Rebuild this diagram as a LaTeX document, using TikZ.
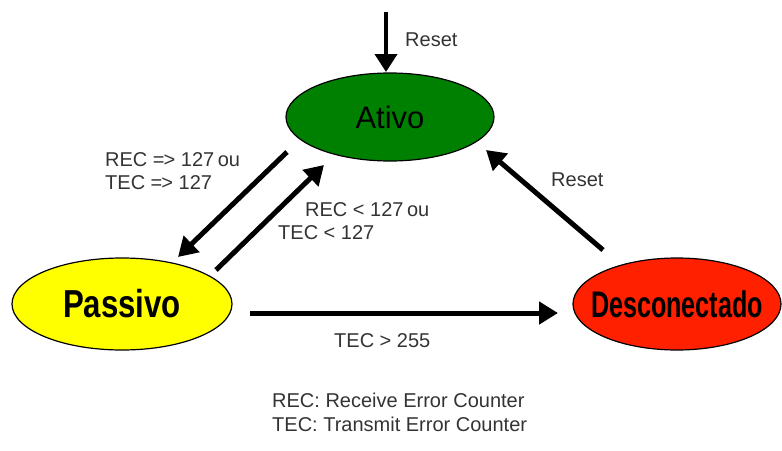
\documentclass[tikz,border=0pt]{standalone}
\usepackage{fontspec}
\setmainfont{Liberation Sans}
\usetikzlibrary{arrows.meta,shapes.geometric}
\definecolor{ativog}{RGB}{0,128,0}
\definecolor{passy}{RGB}{255,255,0}
\definecolor{descr}{RGB}{255,32,0}
\begin{document}
\begin{tikzpicture}[x=1pt,y=-1pt,
  state/.style={ellipse,draw=black,line width=1.2pt,inner sep=0pt},
  conn/.style={line width=5pt,-{Triangle[length=19pt,width=22pt]}},
  lbl/.style={font=\fontsize{20}{23}\selectfont,text=black!80,align=left,inner sep=0pt}]
\useasboundingbox (0,0) rectangle (782,450);
\node[state,fill=ativog,minimum width=208,minimum height=88] (ativo) at (390,117) {\makebox[0pt]{\fontsize{31}{36}\selectfont Ativo}};
\node[state,fill=passy,minimum width=220,minimum height=92] (passivo) at (122,304) {\makebox[0pt]{\fontsize{39}{44}\selectfont\bfseries\scalebox{0.8}[1]{Passivo}}};
\node[state,fill=descr,minimum width=208,minimum height=92] (desc) at (677,304) {\makebox[0pt]{\fontsize{37}{42}\selectfont\bfseries\scalebox{0.68}[1]{Desconectado}}};
\coordinate (rtop) at (386,12);
\coordinate (rbot) at (386,72);
\draw[line width=4pt,-{Triangle[length=18pt,width=22pt]}] (rtop) -- (rbot);
\node[lbl,anchor=west] (lreset) at (405,40) {Reset};
\coordinate (a1) at (287,152);
\coordinate (a2) at (178,257);
\draw[conn] (a1) -- (a2);
\coordinate (b1) at (216,270);
\coordinate (b2) at (324,165);
\draw[conn] (b1) -- (b2);
\coordinate (c1) at (603,250);
\coordinate (c2) at (486,150);
\draw[conn] (c1) -- (c2);
\coordinate (d1) at (250,313);
\coordinate (d2) at (558,313);
\draw[conn] (d1) -- (d2);
\node[lbl,anchor=west] (l1) at (105,160) {REC =\kern-1pt> 127\kern-2pt{} ou};
\node[lbl,anchor=west] (l2) at (105,183) {TEC =\kern-1pt> 127};
\node[lbl,anchor=west] (l3) at (305,210) {REC < 127\kern-2pt{} ou};
\node[lbl,anchor=west] (l4) at (278,233) {TEC < 127};
\node[lbl,anchor=west] (l5) at (551,180) {Reset};
\node[lbl,anchor=west] (l6) at (334,341) {TEC > 255};
\node[lbl,anchor=west] (l7) at (272,400) {REC: Receive Error Counter};
\node[lbl,anchor=west] (l8) at (272,424) {TEC: Transmit Error Counter};
\end{tikzpicture}
\end{document}
